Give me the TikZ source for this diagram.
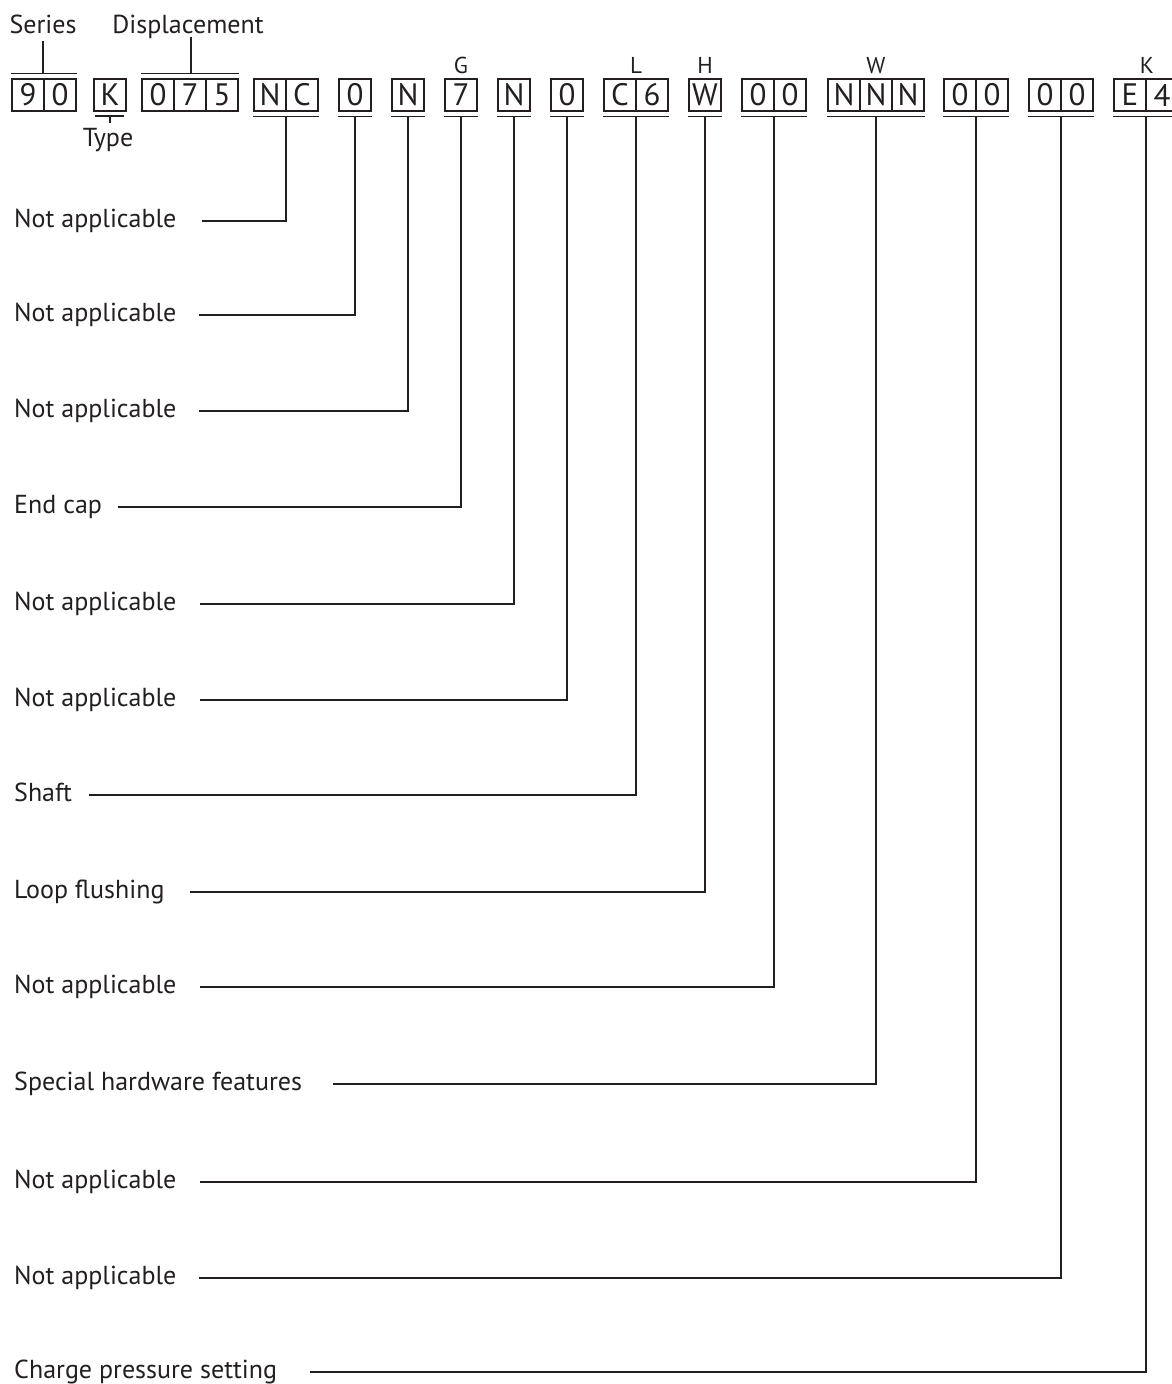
\documentclass[tikz,border=0pt]{standalone}
\usepackage{fontspec}
\setmainfont{PT Sans}
\definecolor{ink}{HTML}{231F20}
\begin{document}
\begin{tikzpicture}[x=1pt,y=-1pt,
  cell/.style={draw=ink, line width=1.3pt, minimum width=32pt, minimum height=32pt, inner sep=0pt, text=ink, font=\fontsize{31}{32}\selectfont},
  lbl/.style={anchor=base west, inner sep=0pt, text=ink, font=\fontsize{26}{30}\selectfont},
  ttl/.style={anchor=base, inner sep=0pt, text=ink, font=\fontsize{26}{30}\selectfont},
  ltr/.style={anchor=base, inner sep=0pt, text=ink, font=\fontsize{23}{26}\selectfont},
  ln/.style={draw=ink, line width=1.3pt}]
\useasboundingbox (0,0) rectangle (1172,1384);
\clip (0,0) rectangle (1172,1384);
% cells
\foreach \n/\x/\t in {a1/28/9,a2/60/0,b1/110/K,c1/158/0,c2/190/7,c3/222/5,
  d1/270/N,d2/302/C,e1/355/0,f1/408/N,g1/461/7,h1/514/N,i1/567/0,
  j1/620/C,j2/652/6,k1/705/W,l1/758/0,l2/790/0,m1/844/N,m2/876/N,m3/908/N,
  n1/960/0,n2/992/0,o1/1045/0,o2/1077/0,p1/1130/E,p2/1162/4}
  \node[cell] (\n) at (\x,95) {\t};
% headers
\node[ttl] (series) at (43,33) {Series};
\node[ttl] (displ) at (188,33) {Displacement};
\node[ttl] (type) at (108,146) {Type};
\node[ltr] (G) at (461,73) {G};
\node[ltr] (L) at (636,73) {L};
\node[ltr] (H) at (705,73) {H};
\node[ltr] (W) at (876,73) {W};
\node[ltr] (K) at (1147,73) {K};
% overlines
\draw[ln] ([yshift=5pt]a1.north west) -- ([yshift=5pt]a2.north east);
\coordinate (sb) at (43,74);
\draw[ln] (sb) -- (sb |- 0,41);
\draw[ln] ([yshift=5pt]c1.north west) -- ([yshift=5pt]c3.north east);
\coordinate (db) at (191,74);
\draw[ln] (db) -- (db |- 0,37);
% type underline
\draw[ln] (95,116) -- (124,116);
\draw[ln] (110,116) -- (110,123);
% underlines
\foreach \a/\b in {d1/d2,e1/e1,f1/f1,g1/g1,h1/h1,i1/i1,j1/j2,k1/k1,l1/l2,m1/m3,n1/n2,o1/o2,p1/p2}
  \draw[ln] ([yshift=-5pt]\a.south west) -- ([yshift=-5pt]\b.south east);
% rows
\foreach \i/\txt/\y/\sx/\vx in {
  1/Not applicable/221/202/286,
  2/Not applicable/315/199/355,
  3/Not applicable/411/199/408,
  4/End cap/507/118/461,
  5/Not applicable/604/200/514,
  6/Not applicable/700/200/567,
  7/Shaft/795/89/636,
  8/Loop flushing/892/190/705,
  9/Not applicable/987/200/774,
  10/Special hardware features/1084/333/876,
  11/Not applicable/1182/200/976,
  12/Not applicable/1278/199/1061,
  13/Charge pressure setting/1372/310/1146}
{
  \node[lbl] (r\i) at (14,\y+6) {\txt};
  \coordinate (s\i) at (\sx,\y);
  \coordinate (u\i) at (\vx,116);
  \draw[ln] (s\i) -| (u\i);
}
\end{tikzpicture}
\end{document}
